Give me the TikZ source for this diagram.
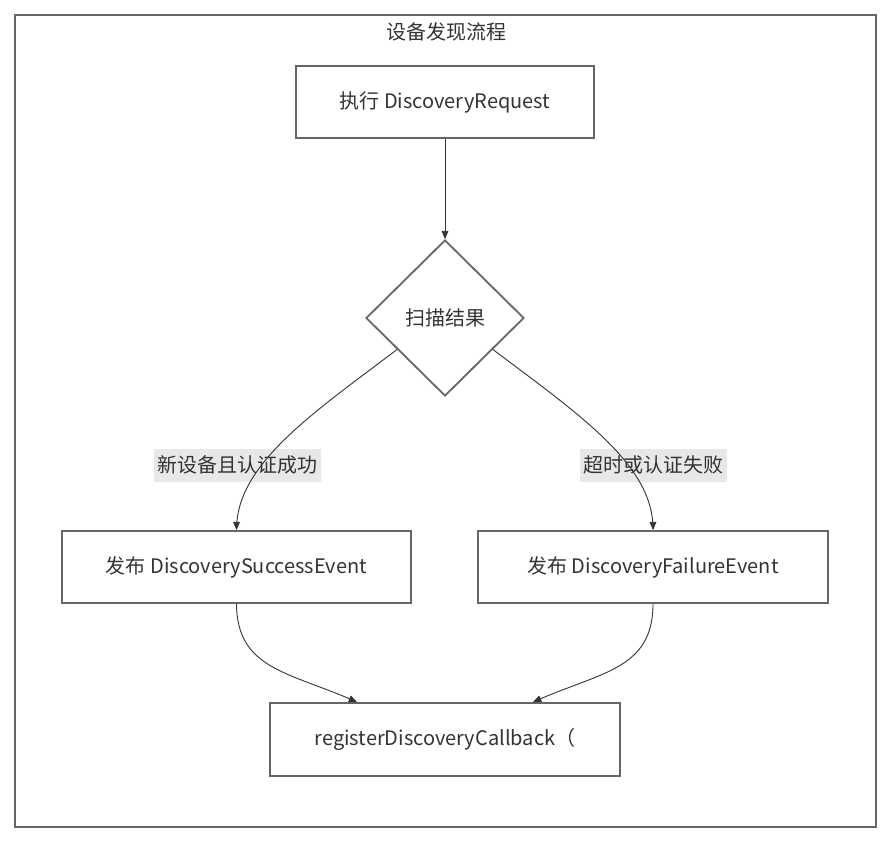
\documentclass[tikz,border=0pt]{standalone}
\usepackage{fontspec}
\setmainfont{Noto Sans CJK SC}
\usetikzlibrary{arrows,shapes,positioning,calc}
\definecolor{boxline}{HTML}{666666}
\definecolor{edgeline}{HTML}{333333}
\definecolor{labelbg}{HTML}{E8E8E8}
\tikzset{
  stepbox/.style={draw=boxline, line width=1.8pt, rectangle, minimum height=72pt, text=edgeline},
  decision/.style={draw=boxline, line width=1.8pt, diamond, minimum width=158pt, minimum height=156pt, inner sep=0pt, text=edgeline},
  cond/.style={fill=labelbg, text=edgeline, inner xsep=3.5pt, inner ysep=0pt, minimum height=33pt},
  flow/.style={draw=edgeline, line width=0.9pt, -triangle 45}
}

\begin{document}
\begin{tikzpicture}[x=1pt, y=-1pt, font=\fontsize{20}{24}\selectfont]
    \useasboundingbox (0,0) rectangle (894,843);
    \draw[boxline, line width=1.8pt] (15,15) rectangle (876,827);
    \node[text=edgeline] (title) at (446,32) {设备发现流程};

    \node[stepbox, minimum width=298pt] (req) at (445,102) {执行 DiscoveryRequest};
    \node[decision] (scan) at (445,318) {扫描结果};
    \node[stepbox, minimum width=349pt] (ok) at (236.5,567) {发布 DiscoverySuccessEvent};
    \node[stepbox, minimum width=350pt] (fail) at (653,567) {发布 DiscoveryFailureEvent};
    \node[stepbox, minimum width=350pt, minimum height=73pt] (cb) at (445,739.5) {registerDiscoveryCallback（};

    \node[cond] (okl) at (237,465) {新设备且认证成功};
    \node[cond] (faill) at (653,465) {超时或认证失败};

    \draw[flow] (req) -- (scan);
    \draw[flow] ($(scan.west)!0.4!(scan.south)$) .. controls (310,415) and (237,465) .. (ok.north);
    \draw[flow] ($(scan.east)!0.4!(scan.south)$) .. controls (580,415) and (653,465) .. (fail.north);
    \draw[flow] (ok.south) .. controls (237,670) and (290,672) .. ([xshift=-88pt]cb.north);
    \draw[flow] (fail.south) .. controls (653,670) and (600,672) .. ([xshift=88pt]cb.north);
  \end{tikzpicture}
\end{document}
